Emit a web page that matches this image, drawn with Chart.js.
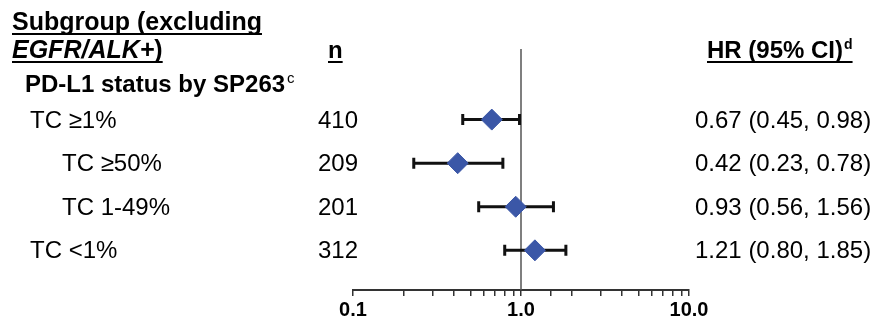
<!DOCTYPE html>
<html>
<head>
<meta charset="utf-8">
<script src="https://cdn.jsdelivr.net/npm/chart.js@4/dist/chart.umd.min.js"></script>
<style>
  html, body { margin: 0; padding: 0; background: #fff; }
  #wrap { width: 881px; height: 325px; }
</style>
</head>
<body>
<div id="wrap"><canvas id="c" width="881" height="325"></canvas></div>
<script>
// ---- data ----
const rowLabels = ['TC \u22651%', 'TC \u226550%', 'TC 1-49%', 'TC <1%'];
const rowLevel = [0, 1, 1, 0];
const nValues = [410, 209, 201, 312];
const hrValues = [0.67, 0.42, 0.93, 1.21];
const ciLow = [0.45, 0.23, 0.56, 0.80];
const ciHigh = [0.98, 0.78, 1.56, 1.85];
const xTickLabels = ['0.1', '1.0', '10.0'];
const headerSubgroup = ['Subgroup (excluding', 'EGFR/ALK+)'];
const headerN = 'n';
const headerHR = 'HR (95% CI)';
const headerHRSup = 'd';
const groupTitle = 'PD-L1 status by SP263';
const groupSup = 'c';

const FONT = "Arial, 'Liberation Sans', sans-serif";
const rowPos = rowLabels.map((_, i) => i + 1);

function underline(ctx, x, y, w) {
  ctx.save();
  ctx.strokeStyle = '#000';
  ctx.lineWidth = 2;
  ctx.beginPath();
  ctx.moveTo(x, y);
  ctx.lineTo(x + w, y);
  ctx.stroke();
  ctx.restore();
}

const forestPlugin = {
  id: 'forest',
  beforeDatasetsDraw(chart) {
    const ctx = chart.ctx;
    const xs = chart.scales.x, ys = chart.scales.y;
    const area = chart.chartArea;
    // reference line at HR = 1
    ctx.save();
    ctx.strokeStyle = '#555';
    ctx.lineWidth = 1.5;
    const x1 = xs.getPixelForValue(1);
    ctx.beginPath();
    ctx.moveTo(x1, area.top);
    ctx.lineTo(x1, area.bottom);
    ctx.stroke();
    // CI bars
    ctx.strokeStyle = '#111';
    ctx.lineWidth = 3;
    rowPos.forEach((r, i) => {
      const y = ys.getPixelForValue(r);
      const xl = xs.getPixelForValue(ciLow[i]);
      const xh = xs.getPixelForValue(ciHigh[i]);
      ctx.beginPath();
      ctx.moveTo(xl, y); ctx.lineTo(xh, y);
      ctx.moveTo(xl, y - 5.5); ctx.lineTo(xl, y + 5.5);
      ctx.moveTo(xh, y - 5.5); ctx.lineTo(xh, y + 5.5);
      ctx.stroke();
    });
    ctx.restore();
  },
  afterDraw(chart) {
    const ctx = chart.ctx;
    const ys = chart.scales.y;
    ctx.save();
    ctx.fillStyle = '#000';
    ctx.textBaseline = 'alphabetic';

    // header: Subgroup
    ctx.font = 'bold 25px ' + FONT;
    ctx.textAlign = 'left';
    ctx.fillText(headerSubgroup[0], 12, 30);
    underline(ctx, 12, 34, ctx.measureText(headerSubgroup[0]).width);
    ctx.font = 'italic bold 25px ' + FONT;
    const part1 = headerSubgroup[1].slice(0, -1);
    const part2 = headerSubgroup[1].slice(-1);
    ctx.fillText(part1, 12, 58);
    const w1 = ctx.measureText(part1).width;
    ctx.font = 'bold 25px ' + FONT;
    ctx.fillText(part2, 12 + w1, 58);
    const w2 = ctx.measureText(part2).width;
    underline(ctx, 12, 62, w1 + w2);

    // header: n
    ctx.font = 'bold 24px ' + FONT;
    ctx.fillText(headerN, 328, 58);
    underline(ctx, 328, 62, ctx.measureText(headerN).width);

    // header: HR
    ctx.fillText(headerHR, 707, 58);
    const wh = ctx.measureText(headerHR).width;
    ctx.font = 'bold 14px ' + FONT;
    ctx.fillText(headerHRSup, 707 + wh + 1, 49);
    const wd = ctx.measureText(headerHRSup).width;
    underline(ctx, 707, 62, wh + wd + 1);

    // group title
    ctx.font = 'bold 24px ' + FONT;
    ctx.fillText(groupTitle, 25, 92);
    const wg = ctx.measureText(groupTitle).width;
    ctx.font = '15px ' + FONT;
    ctx.fillText(groupSup, 25 + wg + 2, 83);

    // rows
    ctx.font = '24px ' + FONT;
    rowPos.forEach((r, i) => {
      const y = ys.getPixelForValue(r) + 8;
      ctx.textAlign = 'left';
      ctx.fillText(rowLabels[i], rowLevel[i] ? 62 : 30, y);
      ctx.textAlign = 'right';
      ctx.fillText(String(nValues[i]), 358, y);
      ctx.textAlign = 'left';
      const txt = hrValues[i].toFixed(2) + ' (' + ciLow[i].toFixed(2) + ', ' + ciHigh[i].toFixed(2) + ')';
      ctx.fillText(txt, 695, y);
    });
    ctx.restore();
  }
};

new Chart(document.getElementById('c'), {
  type: 'scatter',
  data: {
    datasets: [{
      data: hrValues.map((v, i) => ({ x: v, y: rowPos[i] })),
      pointStyle: 'rectRot',
      radius: 10.5,
      backgroundColor: '#3B57A7',
      borderColor: '#3B57A7',
      borderWidth: 1
    }]
  },
  options: {
    responsive: false,
    animation: false,
    events: [],
    layout: { padding: { left: 353, right: 192, top: 49, bottom: 0 } },
    plugins: { legend: { display: false }, tooltip: { enabled: false } },
    scales: {
      x: {
        type: 'logarithmic',
        min: 0.1,
        max: 10,
        position: 'bottom',
        border: { display: true, color: '#333', width: 2 },
        grid: { display: true, drawOnChartArea: false, drawTicks: true, tickLength: 6, color: '#333', lineWidth: 1.5 },
        ticks: {
          autoSkip: false,
          maxRotation: 0,
          padding: 2,
          color: '#000',
          font: { family: FONT, size: 20, weight: 'bold' },
          callback: (value) => {
            const l = Math.log10(value);
            if (Math.abs(l - Math.round(l)) < 1e-6) {
              const idx = Math.round(l) + 1;
              return xTickLabels[idx] !== undefined ? xTickLabels[idx] : '';
            }
            return '';
          }
        },
        afterFit: (s) => { s.height = 35; }
      },
      y: {
        type: 'linear',
        min: -0.62,
        max: 4.91,
        reverse: true,
        display: false
      }
    }
  },
  plugins: [forestPlugin]
});
</script>
</body>
</html>
